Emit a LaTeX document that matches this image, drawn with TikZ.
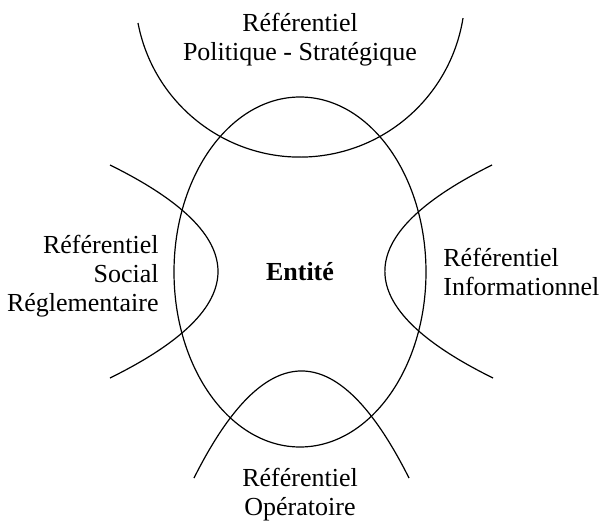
\documentclass[tikz,border=0pt]{standalone}
\usepackage{fontspec}
\setmainfont{Liberation Serif}
\usepackage{tikz}
\usetikzlibrary{shapes.geometric}

\begin{document}
\begin{tikzpicture}[
  x=0.5pt, y=-0.5pt,
  font=\fontsize{13pt}{14.5pt}\selectfont,
  refer/.style={align=center, inner sep=0pt},
  curve/.style={line width=0.6pt},
  entity/.style={draw, ellipse, line width=0.6pt, inner sep=0pt,
                 minimum width=126pt, minimum height=175pt, font=\fontsize{13pt}{14.5pt}\selectfont\bfseries}
]
\useasboundingbox (0,0) rectangle (601,525);

\node[entity] (entite) at (300,272) {Entité};

% les quatre referentiels
\draw[curve] (138,23) arc[start angle=169.2, end angle=9.07, radius=165];
\draw[curve] (110,165) .. controls (254,236) and (254,307) .. (110,378);
\draw[curve] (492,165) .. controls (349,236) and (349,307) .. (493,378);
\draw[curve] (194,478) .. controls (265.7,335.3) and (337.3,335.3) .. (409,478);

\node[refer] (polit) at (300,40) {Référentiel\\Politique - Stratégique};
\node[refer, align=right, anchor=east] (social) at (159,276) {Référentiel\\Social\\Réglementaire};
\node[refer, align=left, anchor=west] (info) at (443,272) {Référentiel\\Informationnel};
\node[refer] (operat) at (300,494.5) {Référentiel\\Opératoire};
\end{tikzpicture}
\end{document}
